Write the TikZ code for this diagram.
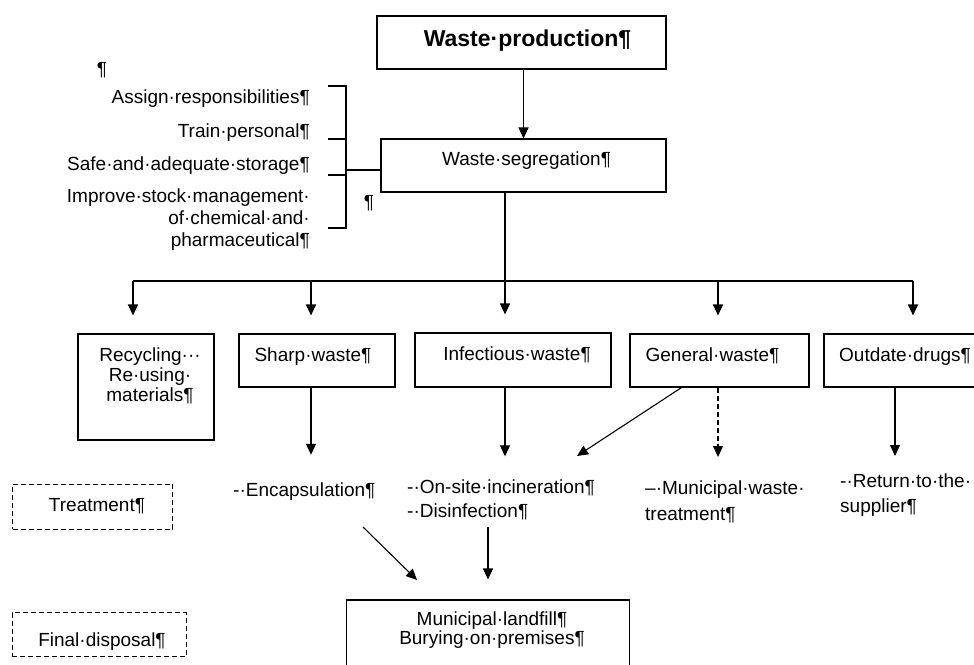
\documentclass[tikz,border=0pt]{standalone}
\usepackage{fontspec}
\setmainfont{Liberation Sans}
\usepackage{tikz}
\usetikzlibrary{arrows.meta,positioning}
\tikzstyle{flecha}=[line width=1.1pt, -{Triangle[length=11pt,width=10pt]}]
\tikzstyle{linea}=[line width=1.1pt]

\begin{document}
\begin{tikzpicture}[x=1pt,y=-1pt,
    caja/.style={draw=black,line width=1.1pt,inner sep=0pt},
    nota/.style={draw=black,line width=1pt,dash pattern=on 5pt off 3pt,inner sep=0pt},
    texto/.style={inner sep=0pt,font=\fontsize{19}{20}\selectfont,text height=14pt,text depth=4pt},
    bloque/.style={inner sep=0pt,font=\fontsize{19}{20}\selectfont}]
  \useasboundingbox (0,0) rectangle (974,664);

  \node [caja,minimum width=289pt,minimum height=53pt] (prod) at (521.5,42.5) {};
  \node [texto,font=\fontsize{23}{24}\selectfont\bfseries,text height=17pt,below=13.5pt of prod.north,xshift=6pt] (prodtxt) {Waste·production¶};
  \node [caja,minimum width=285pt,minimum height=53pt] (seg) at (523.5,165.5) {};
  \node [texto,below=12.7pt of seg.north,xshift=3pt] (segtxt) {Waste·segregation¶};
  \draw [flecha] (prod.south -| seg.north) -- (seg.north);

  \node [texto,anchor=base] (par1) at (102,75) {¶};
  \node [texto,anchor=base east] (assign) at (310,103) {Assign·responsibilities¶};
  \node [texto,anchor=base east] (train) at (310,137) {Train·personal¶};
  \node [texto,anchor=base east] (safe) at (310,170) {Safe·and·adequate·storage¶};
  \node [bloque,align=right,anchor=north east,font=\fontsize{19}{22}\selectfont] (stock) at (310,189)
        {Improve·stock·management·\\of·chemical·and·\\pharmaceutical¶};
  \node [texto,anchor=base] (par2) at (369,208) {¶};
  \draw [linea] (328,86) -- (346,86) -- (346,228) -- (328,228)
                (328,139) -- (346,139) (328,175) -- (346,175);
  \coordinate (brk) at (346,170);
  \draw [linea] (brk) -- (brk -| seg.west);

  \node [caja,minimum width=136pt,minimum height=106pt] (recyc) at (146,387) {};
  \node [bloque,align=center,below=13.7pt of recyc.north,xshift=4pt] (recyctxt) {Recycling···\\Re·using·\\materials¶};
  \node [caja,minimum width=156pt,minimum height=53pt] (sharp) at (317,360.5) {};
  \node [texto,below=13.7pt of sharp.north,xshift=-4pt] (sharptxt) {Sharp·waste¶};
  \node [caja,minimum width=196pt,minimum height=54pt] (infect) at (513,360) {};
  \node [texto,below=13.7pt of infect.north,xshift=4pt] (infecttxt) {Infectious·waste¶};
  \node [caja,minimum width=179pt,minimum height=53pt] (general) at (719.5,360.5) {};
  \node [texto,below=13.7pt of general.north,xshift=-7pt] (generaltxt) {General·waste¶};
  \node [caja,minimum width=166pt,minimum height=53pt] (outdate) at (907,360.5) {};
  \node [texto,below=13.7pt of outdate.north,xshift=-2pt] (outdatetxt) {Outdate·drugs¶};

  \coordinate (b1) at (133,281);
  \coordinate (b2) at (311,281);
  \coordinate (b3) at (505,281);
  \coordinate (b4) at (718,281);
  \coordinate (b5) at (913,281);
  \draw [linea] (seg.south -| b3) -- (b3);
  \draw [linea] (b1) -- (b5);
  \foreach \b/\n in {b1/recyc,b2/sharp,b3/infect,b4/general,b5/outdate}
    \draw [flecha,shorten >=18pt] (\b) -- (\b |- \n.north);

  \node [nota,minimum width=160pt,minimum height=45pt] (treat) at (92.5,506.7) {};
  \node [texto,below=13.7pt of treat.north,xshift=4.5pt] (treattxt) {Treatment¶};
  \node [texto,anchor=base west] (encap) at (233,496) {-·Encapsulation¶};
  \node [bloque,align=left,anchor=north west,font=\fontsize{19}{24}\selectfont] (incin) at (407,479.3)
        {-·On-site·incineration¶\\-·Disinfection¶};
  \node [bloque,align=left,anchor=north west,font=\fontsize{19}{26}\selectfont] (munic) at (645,481)
        {–·Municipal·waste·\\treatment¶};
  \node [bloque,align=left,anchor=north west,font=\fontsize{19}{25}\selectfont] (ret) at (840,474)
        {-·Return·to·the·\\supplier¶};

  \draw [flecha,shorten >=27pt] (sharp.south -| b2) -- (b2 |- encap.north);
  \draw [flecha,shorten >=23pt] (infect.south -| b3) -- (b3 |- incin.north);
  \draw [flecha,dash pattern=on 5pt off 3pt,shorten >=24pt] (general.south -| b4) -- (b4 |- munic.north);
  \draw [flecha,shorten >=18pt] ([xshift=-12pt]outdate.south) -- ([xshift=-12pt]outdate.south |- ret.north);
  \coordinate (gtip) at (577,456);
  \draw [flecha] ([xshift=-38pt]general.south) -- (gtip);

  \node [nota,minimum width=174pt,minimum height=44pt] (final) at (99,634.7) {};
  \node [texto,below=20.3pt of final.north,xshift=3pt] (finaltxt) {Final·disposal¶};
  \node [caja,minimum width=283pt,minimum height=90pt] (land) at (488,645) {};
  \node [bloque,align=center,font=\fontsize{19}{19}\selectfont,below=12pt of land.north,xshift=4pt] (landtxt)
        {Municipal·landfill¶\\Burying·on·premises¶};

  \coordinate (e1) at (363,527);
  \coordinate (e2) at (417,580);
  \draw [flecha] (e1) -- (e2);
  \draw [flecha,shorten <=7pt,shorten >=20pt] (incin.south -| land.north) -- (land.north);
\end{tikzpicture}
\end{document}
